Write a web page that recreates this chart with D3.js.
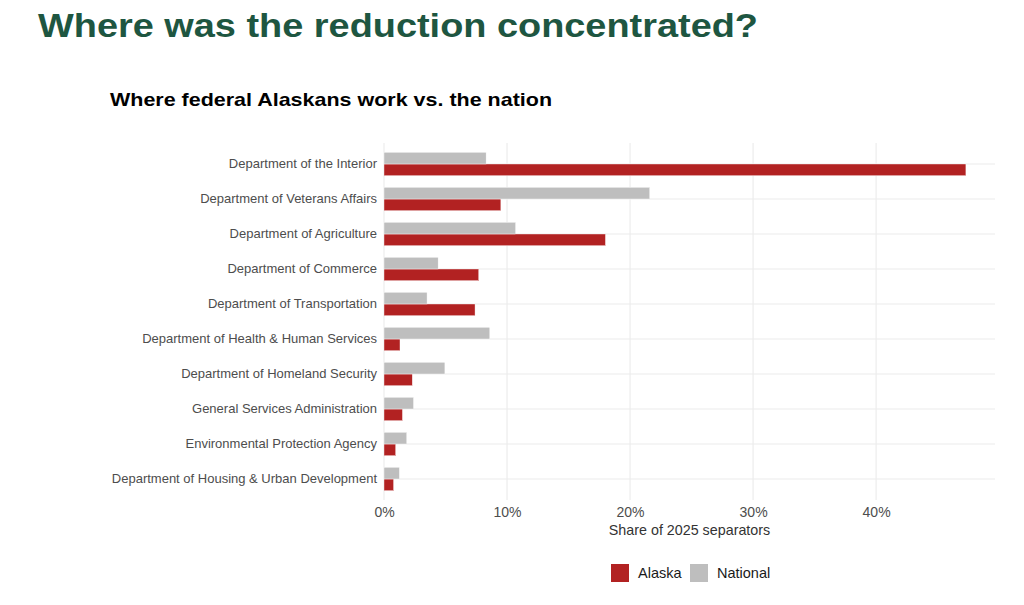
<!DOCTYPE html>
<html>
<head>
<meta charset="utf-8">
<script src="https://cdn.jsdelivr.net/npm/d3@7"></script>
<style>
  html, body { margin: 0; padding: 0; background: #fff; }
  svg { display: block; font-family: "Liberation Sans", Arial, sans-serif; }
</style>
</head>
<body>
<svg id="chart" width="1024" height="605"></svg>
<script>
const categories = [
  "Department of the Interior",
  "Department of Veterans Affairs",
  "Department of Agriculture",
  "Department of Commerce",
  "Department of Transportation",
  "Department of Health & Human Services",
  "Department of Homeland Security",
  "General Services Administration",
  "Environmental Protection Agency",
  "Department of Housing & Urban Development"
];
const alaskaValues   = [47.3, 9.5, 18.0, 7.7, 7.4, 1.3, 2.3, 1.5, 0.95, 0.78];
const nationalValues = [8.3, 21.6, 10.7, 4.4, 3.5, 8.6, 4.95, 2.4, 1.85, 1.25];
const seriesNames = ["Alaska", "National"];
const seriesColors = ["#B22222", "#BEBEBE"];
const xTicks = [0, 10, 20, 30, 40];
const titleText = "Where was the reduction concentrated?";
const subtitleText = "Where federal Alaskans work vs. the nation";
const xAxisTitle = "Share of 2025 separators";

const svg = d3.select("#chart");

const plotLeft = 384, plotRight = 995, plotTop = 143, plotBottom = 500;

const maxVal = d3.max(alaskaValues.concat(nationalValues));
const x = d3.scaleLinear().domain([0, maxVal * 1.05]).range([plotLeft, plotRight]);
const y = d3.scaleBand().domain(categories).range([plotTop, plotBottom]).paddingOuter(0.1).paddingInner(0);
// within-category: National above, Alaska below
const ySub = d3.scaleBand().domain(["National", "Alaska"]).range([-11.7, 11.7]);
const color = d3.scaleOrdinal().domain(seriesNames).range(seriesColors);

const rows = categories.map((c, i) => ({ cat: c, Alaska: alaskaValues[i], National: nationalValues[i] }));

// Title & subtitle
svg.append("text").attr("x", 38).attr("y", 37)
  .attr("font-size", 34).attr("font-weight", "bold").attr("fill", "#1E5641")
  .attr("textLength", 720).attr("lengthAdjust", "spacingAndGlyphs")
  .text(titleText);
svg.append("text").attr("x", 110).attr("y", 106)
  .attr("font-size", 19).attr("font-weight", "bold").attr("fill", "#000")
  .attr("textLength", 442).attr("lengthAdjust", "spacingAndGlyphs")
  .text(subtitleText);

// Gridlines
const grid = svg.append("g");
grid.selectAll("line.v").data(xTicks).join("line")
  .attr("x1", d => x(d)).attr("x2", d => x(d))
  .attr("y1", plotTop).attr("y2", plotBottom)
  .attr("stroke", "#EBEBEB").attr("stroke-width", 1.1);
grid.selectAll("line.h").data(categories).join("line")
  .attr("x1", plotLeft).attr("x2", plotRight)
  .attr("y1", d => y(d) + y.bandwidth() / 2).attr("y2", d => y(d) + y.bandwidth() / 2)
  .attr("stroke", "#EBEBEB").attr("stroke-width", 1.1);

// Bars
const groups = svg.append("g").selectAll("g").data(rows).join("g")
  .attr("transform", d => `translate(0,${y(d.cat) + y.bandwidth() / 2})`);
groups.selectAll("rect").data(d => seriesNames.map(s => ({ s, v: d[s] }))).join("rect")
  .attr("x", x(0))
  .attr("y", d => ySub(d.s))
  .attr("width", d => x(d.v) - x(0))
  .attr("height", ySub.bandwidth())
  .attr("fill", d => color(d.s))
  .attr("stroke", "#fff").attr("stroke-width", 0.4);

// Y axis labels
const yAxis = d3.axisLeft(y).tickSize(0).tickPadding(7);
const yG = svg.append("g").attr("transform", `translate(${plotLeft},0)`).call(yAxis);
yG.select(".domain").remove();
yG.selectAll("text").attr("font-size", 13).attr("fill", "#4D4D4D")
  .attr("font-family", "'Liberation Sans', Arial, sans-serif");

// X axis
const xAxis = d3.axisBottom(x).tickValues(xTicks).tickFormat(d => d + "%").tickSize(0).tickPadding(7);
const xG = svg.append("g").attr("transform", `translate(0,${plotBottom})`).call(xAxis);
xG.select(".domain").remove();
xG.selectAll("text").attr("font-size", 14).attr("fill", "#4D4D4D")
  .attr("font-family", "'Liberation Sans', Arial, sans-serif");

svg.append("text").attr("x", (plotLeft + plotRight) / 2).attr("y", 535)
  .attr("text-anchor", "middle").attr("font-size", 14.3).attr("fill", "#333")
  .text(xAxisTitle);

// Legend
const legendItems = [{ s: "Alaska", x: 611 }, { s: "National", x: 690 }];
const lg = svg.append("g").selectAll("g").data(legendItems).join("g")
  .attr("transform", d => `translate(${d.x},564)`);
lg.append("rect").attr("width", 18).attr("height", 18).attr("fill", d => color(d.s));
lg.append("text").attr("x", 27).attr("y", 14).attr("font-size", 14.5).attr("fill", "#1A1A1A")
  .text(d => d.s);
</script>
</body>
</html>
